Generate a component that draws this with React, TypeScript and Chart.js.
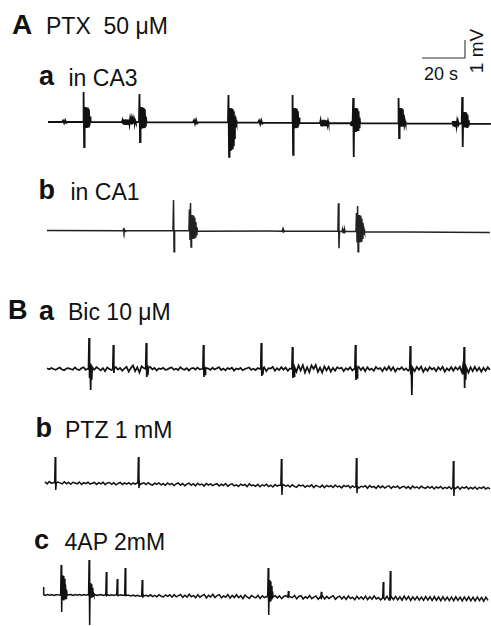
import React, { useEffect, useRef } from "react";
import { Chart, registerables } from "chart.js";
Chart.register(...registerables);

// ---- scale (from the scale bar: 20 s horizontal, 1 mV vertical) ----
const scaleBarSeconds = [0, 20, 20];
const scaleBarMilliVolts = [0, 0, 1];
const PX_PER_S = 43 / 20;
const PX_PER_MV = 18;

// ---- A a : PTX, CA3 (time in s, voltage in mV) ----
const caA_step = 103;
const caA_base = [0, -0.05, -0.1];
const caA_evT = [6.5, 16.3, 34.4, 42.3, 67.4, 83.7, 97.7, 113.5, 126.5, 140.7, 162.8, 188.0, 192.4];
const caA_evDt = [0.5, 0.25, 0.25, 0.25, 0.5, 0.25, 0.5, 0.25, 0.25, 0.25, 0.25, 0.25, 0.25];
const caA_evV = [
  [0, 0.08, -0.06, 0.1, -0.05, 0],
  [0, 1.67, -1.39, 0.83, -0.28, 0.83, -0.28, 0.8, -0.26, 0.8, -0.25, 0.7, -0.2, 0.3, -0.01],
  [0, 0.1, -0.08, 0.14, -0.1, 0.12, -0.12, 0.15, -0.1, 0.12, -0.12, 0.14, -0.1, 0.1, -0.12, 0.13, -0.1, 0.12, -0.14, 0.1, -0.1, 0.12, -0.08, 0.1, -0.06, 0.06, -0.03, -0.01],
  [-0.01, 1.56, -1.11, 0.83, -0.32, 0.83, -0.3, 0.8, -0.3, 0.78, -0.28, 0.7, -0.2, 0.3, -0.02],
  [-0.02, 0.1, -0.1, 0.12, -0.08, -0.02],
  [-0.02, 1.5, -1.94, 0.78, -1.56, 0.78, -1.5, 0.75, -1.45, 0.72, -1.3, 0.6, -0.9, 0.3, -0.3, 0.1, -0.04],
  [-0.04, 0.08, -0.12, 0.1, -0.1, -0.05],
  [-0.05, 1.5, -1.83, 0.78, -0.3, 0.78, -0.3, 0.76, -0.28, 0.74, -0.26, 0.6, -0.2, 0.25, -0.06],
  [-0.06, 0.08, -0.18, 0.1, -0.2, 0.12, -0.17, 0.1, -0.19, 0.12, -0.18, 0.08, -0.16, 0.1, -0.14, 0.04, -0.1, -0.06],
  [-0.07, -0.17, 0.05, -0.18, 0.08, 1.33, -1.94, 0.78, -0.56, 0.78, -0.56, 0.76, -0.52, 0.74, -0.45, 0.6, -0.3, 0.25, -0.07],
  [-0.08, 1.33, -0.89, 0.78, -0.22, 0.78, -0.22, 0.76, -0.2, 0.7, -0.18, 0.4, -0.12, 0.05, -0.08],
  [-0.09, 0.05, -0.2, 0.06, -0.22, 0.04, -0.24, 0.05, -0.22, 0.02, -0.2, 0.0, -0.15, -0.09],
  [-0.09, 1.39, -1.39, 0.56, -0.3, 0.56, -0.3, 0.54, -0.3, 0.5, -0.28, 0.4, -0.2, 0.1, -0.1],
];

// ---- A b : PTX, CA1 ----
const caB_step = 103;
const caB_base = [0.03, 0, -0.08];
const caB_evT = [35.3, 58.6, 66.0, 109.3, 135.3, 137.2, 143.7];
const caB_evDt = [0.25, 0.25, 0.25, 0.25, 0.25, 0.25, 0.25];
const caB_evV = [
  [0.02, 0.08, -0.06, 0.06, -0.03, 0.01],
  [0.01, 1.72, -1.15, 0.01],
  [0.01, 1.2, -0.5, 1.56, -0.89, 0.89, -0.4, 0.89, -0.39, 0.85, -0.38, 0.75, -0.32, 0.5, -0.2, 0.2, -0.01],
  [-0.01, 0.07, -0.05, 0.06, -0.02, -0.01],
  [-0.02, 1.54, -0.96, -0.02],
  [-0.03, 0.1, -0.08, 0.12, -0.1, 0.08, -0.03],
  [-0.03, 1.0, -0.6, 1.39, -1.15, 0.89, -0.6, 0.89, -0.58, 0.85, -0.55, 0.7, -0.4, 0.45, -0.2, 0.1, -0.04],
];

// ---- B a : Bic 10 µM ----
const bic_step = 1;
const bic_base = [
  0.04, -0.02, 0.06, 0.0, -0.05, 0.03, 0.08, -0.03, -0.07, 0.02,
  0.05, 0.0, -0.04, 0.09, -0.02, -0.06, 0.04, 0.1, -0.05, 0.02,
  -0.15, 0.06, -0.04, 0.1, 0.02, -0.08, 0.05, -0.12, 0.08, 0.0,
  -0.06, 0.04, 0.1, -0.03, 0.06, -0.1, 0.02, 0.12, -0.15, 0.05,
  0.2, -0.12, 0.1, -0.2, 0.15, 0.05, -0.08, -0.18, 0.12, -0.02,
  0.06, -0.08, 0.03, 0.0, 0.07, -0.05, -0.02, 0.05, 0.09, -0.04,
  0.02, -0.06, 0.1, 0.0, -0.04, 0.05, -0.08, 0.03, 0.06, -0.03,
  0.08, -0.02, 0.0, -0.1, 0.06, 0.02, -0.05, 0.07, -0.03, 0.04,
  0.1, -0.06, 0.02, -0.08, 0.05, 0.0, 0.07, -0.09, 0.03, -0.02,
  0.06, -0.07, 0.0, 0.04, 0.08, -0.05, 0.02, -0.06, 0.05, 0.0,
  -0.08, 0.1, -0.12, 0.05, 0.02, 0.12, -0.1, 0.04, -0.06, 0.1,
  -0.04, 0.08, -0.1, 0.03, -0.06, 0.18, -0.15, 0.2, -0.08, 0.22,
  -0.2, 0.1, -0.18, 0.2, 0.0, 0.22, -0.16, 0.08, -0.2, 0.15,
  -0.08, 0.12, -0.15, 0.06, -0.1, 0.1, 0.02, 0.08, -0.12, 0.05,
  -0.04, 0.1, -0.08, 0.02, -0.15, 0.12, -0.06, 0.08, -0.12, 0.1,
  -0.05, 0.02, -0.1, 0.12, 0.0, 0.05, -0.12, 0.08, -0.06, 0.14,
  -0.08, 0.1, -0.14, 0.04, -0.02, 0.1, -0.06, 0.03, -0.1, -0.15,
  0.08, -0.12, 0.12, -0.04, 0.14, -0.16, 0.05, -0.1, 0.1, -0.02,
  0.06, -0.12, 0.1, -0.05, 0.12, -0.15, 0.04, -0.08, 0.1, -0.1,
  0.1, -0.04, 0.12, -0.18, -0.1, 0.15, -0.2, 0.1, -0.12, 0.12,
  -0.1, 0.08, -0.15, 0.06, -0.1, 0.1, -0.05,
];
const bic_evT = [19.3, 30.6, 45.9, 72.5, 99.4, 113.9, 143.2, 168.7, 193.5];
const bic_evDt = [0.25, 0.25, 0.25, 0.25, 0.25, 0.25, 0.25, 0.25, 0.25];
const bic_evV = [
  [0.0, 1.72, -0.5, 0.3, -1.17, 0.2, -0.6, 0.1],
  [0.0, 1.33, -0.22, 0.05],
  [0.0, 1.44, -0.44, 0.2, -0.35, 0.05],
  [0.0, 1.33, -0.44, 0.15, -0.3, 0.0],
  [0.0, 1.44, -0.39, 0.1, -0.3, 0.05],
  [0.0, 1.22, -0.5, 0.2, -0.4, 0.1],
  [0.0, 1.33, -0.61, 0.2, -0.5, 0.05],
  [0.0, 1.28, -0.3, 0.1, -1.44, 0.0],
  [0.2, -0.3, 1.22, -1.06, 0.2, -0.6, 0.1],
];

// ---- B b : PTZ 1 mM ----
const ptz_step = 1;
const ptz_base = [
  0.06, -0.05, 0.08, -0.02, 0.03, -0.06, 0.05, 0.01, -0.05, 0.07,
  -0.04, 0.03, -0.07, 0.04, 0.0, -0.05, 0.05, -0.08, 0.02, -0.04,
  0.04, -0.06, -0.01, 0.03, -0.08, 0.02, -0.05, 0.04, -0.09, 0.0,
  0.03, -0.07, 0.01, -0.1, -0.02, 0.03, -0.08, 0.01, -0.06, 0.02,
  -0.09, 0.0, -0.06, 0.02, -0.11, -0.03, 0.01, -0.09, 0.02, -0.07,
  -0.12, -0.01, -0.08, 0.0, -0.1, -0.04, -0.13, 0.0, -0.09, -0.02,
  -0.14, -0.05, 0.0, -0.12, -0.03, -0.15, -0.06, -0.01, -0.13, -0.04,
  -0.16, -0.02, -0.11, -0.06, -0.17, -0.03, -0.12, -0.05, -0.15, -0.08,
  -0.04, -0.17, -0.07, -0.14, -0.03, -0.18, -0.09, -0.05, -0.16, -0.1,
  -0.19, -0.06, -0.13, -0.08, -0.2, -0.05, -0.15, -0.11, -0.18, -0.07,
  -0.21, -0.1, -0.16, -0.07, -0.2, -0.12, -0.22, -0.08, -0.17, -0.11,
  -0.23, -0.09, -0.18, -0.12, -0.22, -0.1, -0.19, -0.24, -0.11, -0.16,
  -0.12, -0.24, -0.14, -0.2, -0.1, -0.25, -0.13, -0.19, -0.23, -0.12,
  -0.26, -0.13, -0.2, -0.15, -0.25, -0.11, -0.22, -0.17, -0.27, -0.14,
  -0.2, -0.13, -0.27, -0.16, -0.24, -0.12, -0.28, -0.18, -0.22, -0.15,
  -0.29, -0.14, -0.24, -0.19, -0.3, -0.15, -0.26, -0.17, -0.28, -0.2,
  -0.16, -0.3, -0.19, -0.25, -0.17, -0.31, -0.22, -0.18, -0.29, -0.2,
  -0.32, -0.17, -0.27, -0.21, -0.31, -0.18, -0.25, -0.3, -0.19, -0.28,
  -0.2, -0.33, -0.22, -0.28, -0.19, -0.32, -0.24, -0.3, -0.21, -0.33,
  -0.22, -0.31, -0.2, -0.34, -0.23, -0.29, -0.21, -0.33, -0.25, -0.32,
  -0.22, -0.35, -0.24, -0.3, -0.21, -0.34, -0.26, -0.33,
];
const ptz_evT = [4.5, 43.2, 109.7, 144.6, 189.7];
const ptz_evDt = [0.25, 0.25, 0.25, 0.25, 0.25];
const ptz_evV = [
  [0.02, 1.44, -0.39, 0.0],
  [0.0, 1.44, -0.28, -0.05],
  [-0.14, 1.33, -0.67, -0.14],
  [-0.19, 1.39, -0.56, -0.2],
  [-0.25, 1.22, -0.72, -0.26],
];

// ---- B c : 4AP 2 mM ----
const fap_step = 1;
const fap_base = [
  0.02, -0.02, 0.03, -0.01, 0.02, -0.03, 0.01, 0.02, -0.02, 0.01,
  0.03, -0.02, 0.01, 0.03, -0.03, 0.02, -0.01, 0.02, -0.02, 0.03,
  -0.01, 0.02, -0.03, 0.01, 0.03, -0.02, 0.0, 0.02, -0.03, 0.01,
  0.02, -0.03, 0.01, -0.02, 0.02, -0.04, 0.01, -0.01, 0.03, -0.02,
  -0.01, -0.05, 0.0, -0.06, -0.02, -0.07, 0.01, -0.05, -0.02, -0.08,
  0.01, -0.09, -0.02, -0.1, 0.02, -0.07, -0.11, 0.0, -0.08, 0.01,
  -0.12, 0.02, -0.1, -0.03, 0.03, -0.13, -0.01, -0.12, 0.04, -0.1,
  -0.02, -0.15, 0.02, -0.12, -0.04, 0.03, -0.16, -0.02, -0.11, 0.04,
  -0.14, -0.03, 0.02, -0.16, -0.05, -0.12, 0.03, -0.18, -0.02, -0.14,
  0.01, -0.15, -0.04, -0.2, 0.0, -0.12, -0.18, -0.03, -0.1, -0.16,
  -0.02, -0.2, -0.05, -0.14, -0.08, -0.02, -0.18, -0.12, -0.04, -0.16,
  -0.05, -0.2, -0.08, -0.03, -0.19, -0.1, -0.15, -0.02, -0.21, -0.08,
  -0.04, -0.22, -0.1, -0.18, -0.03, -0.2, -0.12, -0.05, -0.24, -0.1,
  -0.05, -0.22, -0.08, -0.2, -0.1, -0.04, -0.24, -0.12, -0.06, -0.22,
  -0.08, -0.25, -0.06, -0.2, -0.12, -0.26, -0.07, -0.22, -0.1, -0.24,
  -0.06, -0.26, -0.1, -0.24, -0.05, -0.22, -0.14, -0.27, -0.08, -0.25,
  -0.07, -0.28, -0.09, -0.26, -0.08, -0.27, -0.1, -0.29, -0.06, -0.26,
  -0.08, -0.3, -0.1, -0.27, -0.09, -0.29, -0.12, -0.3, -0.08, -0.28,
  -0.1, -0.31, -0.09, -0.29, -0.11, -0.32, -0.1, -0.3, -0.12, -0.31,
  -0.11, -0.32, -0.1, -0.3, -0.12, -0.33, -0.11, -0.31, -0.1, -0.32,
  -0.12, -0.33, -0.11, -0.31, -0.13, -0.34, -0.12, -0.3,
];
const fap_evT = [0.2, 8.2, 21.2, 29.2, 34.3, 38.0, 45.9, 104.5, 113.9, 129.2, 158.0, 161.3];
const fap_evDt = [0.25, 0.25, 0.25, 0.25, 0.25, 0.25, 0.25, 0.25, 0.25, 0.25, 0.25, 0.25];
const fap_evV = [
  [0.44, 0.02],
  [0.02, 1.67, -0.94, 1.1, -0.28, 1.05, -0.3, 0.9, -0.25, 0.6, -0.2, 0.3, -0.01],
  [0.0, 1.94, -1.67, 0.67, -0.17, 0.6, -0.15, 0.4, -0.1, 0.1, 0.0],
  [0.0, 1.28, -0.02],
  [0.0, 0.89, -0.02],
  [0.0, 1.5, -0.03],
  [-0.05, 0.83, -0.15, 0.0],
  [-0.1, 1.5, -1.11, 0.83, -0.39, 0.75, -0.35, 0.5, -0.25, 0.2, -0.12],
  [-0.12, 0.22, -0.1],
  [-0.14, 0.17, -0.12],
  [-0.16, 0.72, -0.15],
  [-0.17, 1.33, -0.15],
];

type Pt = { x: number; y: number };

function buildTrace(step: number, base: number[], evT: number[], evDt: number[], evV: number[][]): Pt[] {
  const spans = evT.map((t, i) => [t, t + (evV[i].length - 1) * evDt[i]]);
  const pts: Pt[] = [];
  base.forEach((v, i) => {
    const t = i * step;
    if (!spans.some(([a, b]) => t >= a - 0.01 && t <= b + 0.01)) pts.push({ x: t, y: v });
  });
  evT.forEach((t, i) => evV[i].forEach((v, j) => pts.push({ x: t + j * evDt[i], y: v })));
  pts.sort((a, b) => a.x - b.x);
  return pts;
}

const FONT = "'Liberation Sans', Arial, Helvetica, sans-serif";

type PanelProps = {
  left: number; top: number; width: number; height: number;
  ox: number; oy: number; data: Pt[]; lineWidth: number; color: string;
};

function TracePanel(p: PanelProps) {
  const ref = useRef<HTMLCanvasElement>(null);
  useEffect(() => {
    const c = ref.current!;
    const chart = new Chart(c, {
      type: "line",
      data: {
        datasets: [
          {
            data: p.data as any,
            borderColor: p.color,
            borderWidth: p.lineWidth,
            pointRadius: 0,
            tension: 0,
            fill: false,
            borderJoinStyle: "miter",
          },
        ],
      },
      options: {
        animation: false,
        responsive: false,
        maintainAspectRatio: false,
        events: [],
        layout: { padding: 0 },
        plugins: { legend: { display: false }, tooltip: { enabled: false }, title: { display: false } },
        scales: {
          x: {
            type: "linear",
            display: false,
            min: (p.left - p.ox) / PX_PER_S,
            max: (p.left + p.width - p.ox) / PX_PER_S,
          },
          y: {
            type: "linear",
            display: false,
            min: -(p.top + p.height - p.oy) / PX_PER_MV,
            max: (p.oy - p.top) / PX_PER_MV,
          },
        },
      },
    });
    return () => chart.destroy();
  }, []);
  return (
    <canvas
      ref={ref}
      width={p.width}
      height={p.height}
      style={{ position: "absolute", left: p.left, top: p.top, width: p.width, height: p.height }}
    />
  );
}

function Label(props: { text: string; left: number; baseline: number; size: number; bold?: boolean }) {
  const { text, left, baseline, size, bold } = props;
  return (
    <div
      style={{
        position: "absolute",
        left,
        top: baseline - 0.8465 * size,
        fontFamily: FONT,
        fontSize: size,
        lineHeight: `${size}px`,
        fontWeight: bold ? 700 : 400,
        whiteSpace: "pre",
        color: "#111",
      }}
    >
      {text}
    </div>
  );
}

const traceA = buildTrace(caA_step, caA_base, caA_evT, caA_evDt, caA_evV);
const traceB = buildTrace(caB_step, caB_base, caB_evT, caB_evDt, caB_evV);
const traceBic = buildTrace(bic_step, bic_base, bic_evT, bic_evDt, bic_evV);
const tracePtz = buildTrace(ptz_step, ptz_base, ptz_evT, ptz_evDt, ptz_evV);
const trace4ap = buildTrace(fap_step, fap_base, fap_evT, fap_evDt, fap_evV);
const scaleBar = scaleBarSeconds.map((s, i) => ({ x: s, y: scaleBarMilliVolts[i] }));

export default function App() {
  const T = 23;
  const BL = 27;
  return (
    <div style={{ position: "fixed", left: 0, top: 0, width: 491, height: 626, overflow: "hidden", background: "#fff" }}>
      <Label text="A" left={12} baseline={35} size={28} bold />
      <Label text={"PTX  50 \u03bcM"} left={46} baseline={34} size={T} />
      <Label text="a" left={39} baseline={86} size={BL} bold />
      <Label text="in CA3" left={68.5} baseline={86} size={T} />
      <Label text="b" left={38.5} baseline={200} size={BL} bold />
      <Label text="in CA1" left={70.5} baseline={200} size={T} />
      <Label text="B" left={8} baseline={320} size={BL} bold />
      <Label text="a" left={39} baseline={321} size={BL} bold />
      <Label text={"Bic 10 \u03bcM"} left={68} baseline={320} size={T} />
      <Label text="b" left={35.5} baseline={438} size={BL} bold />
      <Label text="PTZ 1 mM" left={65} baseline={438} size={T} />
      <Label text="c" left={34} baseline={550} size={BL} bold />
      <Label text="4AP 2mM" left={64.5} baseline={550} size={T} />
      <Label text="20 s" left={424} baseline={80} size={18} />
      <div
        style={{
          position: "absolute",
          left: 476,
          top: 51,
          transform: "translate(-50%, -50%) rotate(-90deg)",
          fontFamily: FONT,
          fontSize: 19,
          lineHeight: "19px",
          whiteSpace: "nowrap",
          color: "#111",
        }}
      >
        1 mV
      </div>

      <TracePanel left={415} top={34} width={56} height={30} ox={422} oy={58} data={scaleBar} lineWidth={1.1} color="#333" />
      <TracePanel left={40} top={28} width={451} height={140} ox={48} oy={122} data={traceA} lineWidth={1.8} color="#111" />
      <TracePanel left={40} top={190} width={451} height={72} ox={47} oy={231} data={traceB} lineWidth={1.5} color="#222" />
      <TracePanel left={40} top={330} width={451} height={72} ox={47} oy={369} data={traceBic} lineWidth={1.7} color="#111" />
      <TracePanel left={38} top={445} width={453} height={60} ox={45} oy={483} data={tracePtz} lineWidth={1.5} color="#111" />
      <TracePanel left={36} top={552} width={455} height={74} ox={43} oy={595} data={trace4ap} lineWidth={1.5} color="#111" />
    </div>
  );
}
